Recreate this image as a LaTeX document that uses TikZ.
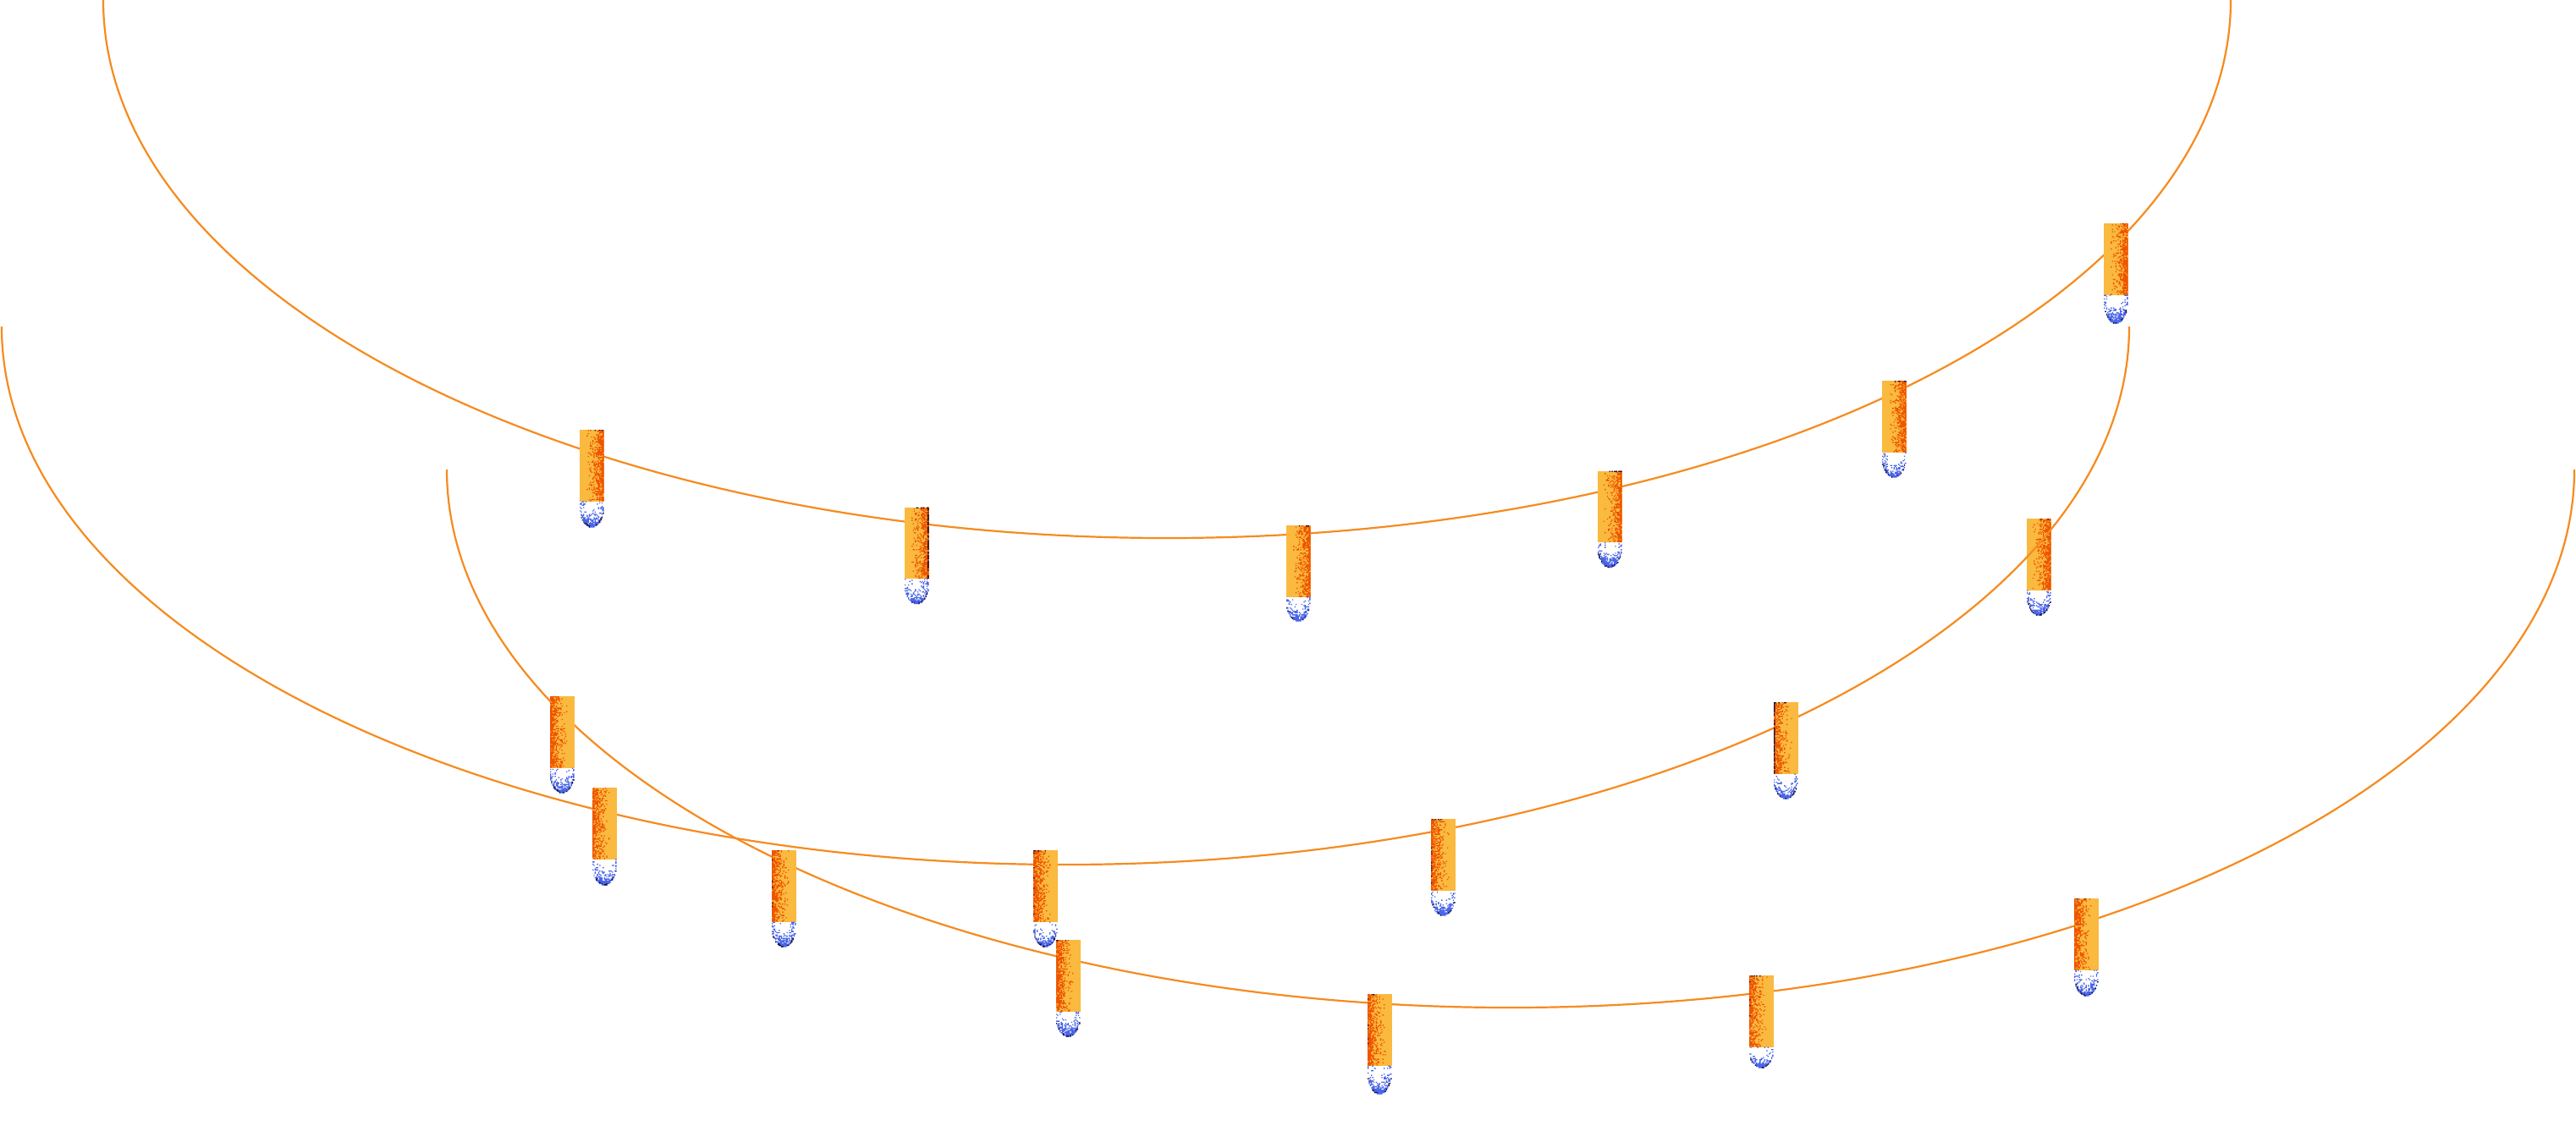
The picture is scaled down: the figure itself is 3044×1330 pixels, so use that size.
\documentclass[tikz,border=0pt]{standalone}
\definecolor{cigl}{HTML}{FAB93F}
\definecolor{cigd}{HTML}{EE5500}
\definecolor{tipb}{HTML}{4A66E8}
\definecolor{blk}{HTML}{1A1030}
\definecolor{wire}{HTML}{F68B1F}
\tikzset{wireline/.style={draw=wire,line width=1.1pt}}
\newcount\rs \global\rs=4242
\newcount\rt \newcount\rq
\newcount\rv
\def\nextr{%
  \rt=\numexpr\rs*17389+12345\relax
  \rq=\rt \divide\rq by 99991 \multiply\rq by 99991
  \advance\rt by -\rq
  \global\rs=\rt
  \rv=\rt \divide\rv by 100 }
\newcount\cx \newcount\cy \newcount\ncols \newcount\nrows
\newcount\kk \newcount\pp \newcount\tv
\newcount\uu \newcount\vv \newcount\ww \newcount\ss
\newdimen\ox \newdimen\oy \newdimen\cw \newdimen\ch
\def\putcell{\pgfpathrectangle{\pgfqpoint{\dimexpr\ox+\cw*\cx\relax}{\dimexpr\oy-\ch*\cy\relax}}{\pgfqpoint{\cw}{-\ch}}}
\def\rowloop{\ifnum\cy<\nrows \cx=0 \colloop \advance\cy by 1 \expandafter\rowloop\fi}
\def\colloop{\ifnum\cx<\ncols \docell \advance\cx by 1 \expandafter\colloop\fi}
\def\setk{\ifnum\cigdir=1 \kk=\cx \else \kk=\numexpr20-\cx\relax \fi}
% dark dither of the body
\def\celldark{%
  \setk
  \tv=\numexpr((\kk*1000+500)/21-220)*5/4\relax
  \ifnum\tv>0
    \pp=\numexpr\tv*(\tv+300)/1300\relax
    \nextr
    \ifnum\rv<\pp \putcell \fi
  \fi}
% black ticks on the body
\def\cellblack{%
  \setk
  \pp=0
  \ifnum\cy=0 \ifnum\kk>9 \pp=\cigtop\relax \fi\fi
  \ifnum\kk=20 \ifnum\cigedge>\pp \pp=\cigedge\relax \fi\fi
  \ifnum\pp>0 \nextr \ifnum\rv<\pp \putcell \fi \fi}
% shared geometry of the tip
\def\tipgeo{%
  \uu=\numexpr(2*\cx+1-21)*1000/21\relax
  \vv=\numexpr(\cy*1000+500)/\nrows\relax
  \ifnum\vv>250 \ww=\numexpr(\vv-250)*4/3\relax \else \ww=0 \fi
  \ss=\numexpr(\uu*\uu+\ww*\ww)/1000\relax}
\def\cellblue{%
  \tipgeo
  \ifnum\ss<1001
    \ifnum\vv>300 \ww=\numexpr(\vv-300)*10/7\relax \else \ww=0 \fi
    \pp=\numexpr(\uu*\uu+\ww*\ww)/1000\relax
    \pp=\numexpr(\pp+\ww)/2\relax
    \pp=\numexpr\pp*(520+\vv*60/100)/1000*11/10\relax
    \nextr
    \ifnum\rv<\pp \putcell \fi
  \fi}
\def\cellrim{%
  \tipgeo
  \ifnum\ss<1001 \ifnum\ss>860 \ifnum\vv>450
    \nextr
    \ifnum\rv<350 \putcell \fi
  \fi\fi\fi}
% #1 left, #2 top, #3 tip length, #4 dark side (1 right, 0 left),
% #5 chance of black at the top, #6 chance of black on the dark edge
\newcommand\cig[6]{%
  \def\cigdir{#4}\def\cigtop{#5}\def\cigedge{#6}%
  \pgfmathsetmacro\tb{#2+84.5}%
  \pgfmathsetmacro\tm{\tb+0.25*#3}%
  \pgfmathsetmacro\tc{\tm+0.41*#3}%
  \pgfmathsetmacro\te{\tb+#3}%
  \pgfmathsetmacro\xa{#1+6.41}%
  \pgfmathsetmacro\xb{#1+14.25}%
  \pgfmathsetmacro\xc{#1+22.09}%
  \pgfmathsetmacro\xd{#1+28.5}%
  \fill[white] (#1,\tb) -- (#1,\tm) .. controls (#1,\tc) and (\xa,\te) .. (\xb,\te)
     .. controls (\xc,\te) and (\xd,\tc) .. (\xd,\tm) -- (\xd,\tb) -- cycle;
  \fill[cigl] (#1,#2) rectangle (\xd,\tb);
  \ox=#1pt \ox=.5\ox
  \oy=#2pt \oy=-.5\oy
  \ncols=21 \nrows=63
  \cw=14.25pt \divide\cw by 21
  \ch=42.25pt \divide\ch by 63
  \begin{pgfscope}\pgfsetfillcolor{cigd}\let\docell\celldark\cy=0 \rowloop\pgfusepath{fill}\end{pgfscope}
  \begin{pgfscope}\pgfsetfillcolor{blk}\let\docell\cellblack\cy=0 \rowloop\pgfusepath{fill}\end{pgfscope}
  \oy=\tb pt \oy=-.5\oy
  \nrows=\numexpr#3*100/135\relax
  \ch=#3pt \ch=.5\ch \divide\ch by \nrows
  \begin{pgfscope}\pgfsetfillcolor{tipb}\let\docell\cellblue\cy=0 \rowloop\pgfusepath{fill}\end{pgfscope}
  \begin{pgfscope}\pgfsetfillcolor{blk}\let\docell\cellrim\cy=0 \rowloop\pgfusepath{fill}\end{pgfscope}
}
\begin{document}
\begin{tikzpicture}[x=0.5pt,y=-0.5pt]
\useasboundingbox[fill=white] (0,0) rectangle (3044,1330);
\cig{2395}{613}{30}{1}{300}{0}
% the three wires
\draw[wireline] (122,0) arc[start angle=180,end angle=360,x radius=628.5pt,y radius=318pt];
\draw[wireline] (2,386) arc[start angle=180,end angle=360,x radius=628.5pt,y radius=318pt];
\draw[wireline] (528,555) arc[start angle=180,end angle=360,x radius=628.5pt,y radius=318pt];
% upper row
\cig{685}{508}{31}{1}{150}{0}
\cig{1069}{599.5}{30}{1}{400}{700}
\cig{1520}{621}{29}{1}{300}{0}
\cig{1888}{556.5}{30}{1}{400}{0}
\cig{2224}{450}{30}{1}{400}{0}
\cig{2486}{264}{34}{1}{150}{0}
% middle row
\cig{700}{931}{31}{0}{0}{0}
\cig{1221}{1005}{30}{0}{400}{150}
\cig{1691}{968}{30}{0}{400}{150}
\cig{2096}{830}{30}{0}{400}{750}
% lower row
\cig{650}{823}{30}{0}{0}{0}
\cig{912}{1005}{30}{0}{300}{50}
\cig{1248}{1111}{30}{0}{300}{0}
\cig{1616}{1175}{34}{0}{200}{100}
\cig{2067}{1153}{25}{0}{300}{50}
\cig{2451}{1062}{31}{0}{100}{50}
\end{tikzpicture}
\end{document}
